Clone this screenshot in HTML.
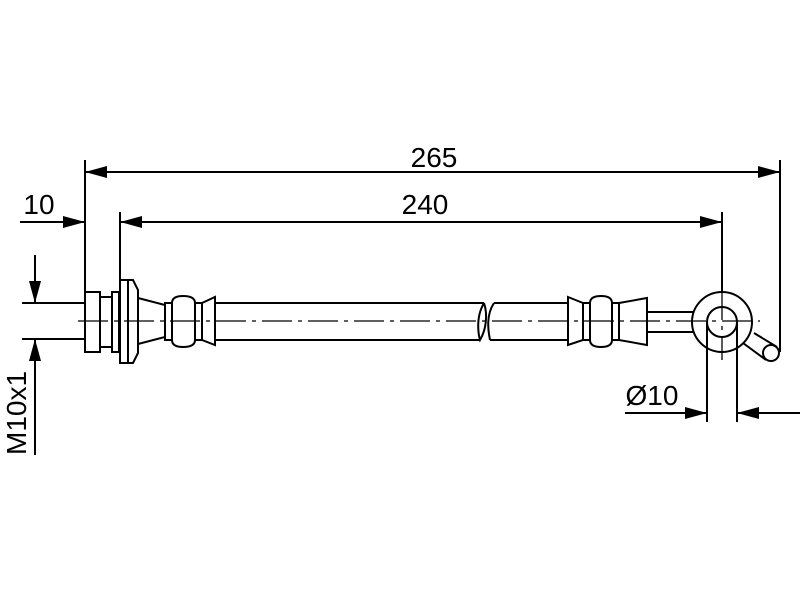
<!DOCTYPE html>
<html><head><style>body{margin:0;background:#fff}svg{display:block}</style></head><body>
<svg width="800" height="600" viewBox="0 0 800 600" xmlns="http://www.w3.org/2000/svg" font-family="Liberation Sans, sans-serif">
<defs>
<marker id="a" viewBox="0 0 22 12" refX="22" refY="6" markerWidth="22" markerHeight="12" markerUnits="userSpaceOnUse" orient="auto"><path d="M0,0L22,6L0,12z" fill="#000"/></marker>
</defs>
<g stroke="#000" stroke-width="2" fill="none">
<line x1="85" y1="160" x2="85" y2="292"/>
<line x1="120" y1="212" x2="120" y2="280"/>
<line x1="722" y1="212" x2="722" y2="292"/>
<line x1="780" y1="160" x2="780" y2="352"/>
<line x1="85" y1="172" x2="780" y2="172" marker-end="url(#a)"/>
<line x1="780" y1="172" x2="85" y2="172" marker-end="url(#a)"/>
<line x1="120" y1="222" x2="722" y2="222" marker-end="url(#a)"/>
<line x1="722" y1="222" x2="120" y2="222" marker-end="url(#a)"/>
<line x1="20" y1="222" x2="85" y2="222" marker-end="url(#a)"/>
<line x1="22" y1="303" x2="85" y2="303"/>
<line x1="22" y1="339" x2="85" y2="339"/>
<line x1="35" y1="255" x2="35" y2="303" marker-end="url(#a)"/>
<line x1="35" y1="455" x2="35" y2="339" marker-end="url(#a)"/>
<rect x="85" y="292" width="15" height="60"/>
<rect x="100" y="297" width="12" height="50"/>
<rect x="112" y="292" width="7" height="60"/>
<path d="M120,280H133L138,290V353L133,363H120Z"/>
<line x1="128" y1="280" x2="128" y2="363"/>
<path d="M138,298L165,305V337L138,344"/>
<rect x="165" y="303" width="7" height="37"/>
<path d="M172,303Q172,296 183,296Q195,296 195,303V340Q195,347 183,347Q172,347 172,340Z"/>
<rect x="195" y="303" width="7" height="37"/>
<path d="M202,303L215,297V345L202,340"/>
<path d="M215,303H484M215,340H480"/>
<path d="M494,303H568M490,340H568"/>
<path d="M484,303C474,320 480,340 480,340C486,330 488,315 484,303"/>
<path d="M494,303C486,315 488,330 490,340"/>
<path d="M568,297L583,303V340L568,345Z"/>
<rect x="583" y="303" width="7" height="37"/>
<path d="M590,303Q590,296 601,296Q612,296 612,303V340Q612,347 601,347Q590,347 590,340Z"/>
<rect x="612" y="303" width="7" height="37"/>
<path d="M619,303L647,298V345L619,340"/>
<path d="M647,312H694M647,332H694"/>
<circle cx="722" cy="322" r="30"/>
<circle cx="722" cy="322" r="15"/>
<path d="M743,343L766,360M754,333L777,347"/>
<circle cx="771" cy="353" r="8"/>
<line x1="707" y1="322" x2="707" y2="422"/>
<line x1="737" y1="322" x2="737" y2="422"/>
<line x1="625" y1="413" x2="707" y2="413" marker-end="url(#a)"/>
<line x1="800" y1="413" x2="737" y2="413" marker-end="url(#a)"/>
</g>
<g stroke="#000" stroke-width="1.3" stroke-dasharray="30,6,4,6" fill="none">
<line x1="78" y1="321" x2="760" y2="321"/>
<line x1="722" y1="290" x2="722" y2="360"/>
</g>
<g font-size="28" fill="#000">
<text x="434" y="167" text-anchor="middle">265</text>
<text x="425" y="214" text-anchor="middle">240</text>
<text x="39" y="214" text-anchor="middle">10</text>
<text x="652" y="405" text-anchor="middle">Ø10</text>
<text transform="translate(26,455) rotate(-90)">M10x1</text>
</g>
</svg>
</body></html>
